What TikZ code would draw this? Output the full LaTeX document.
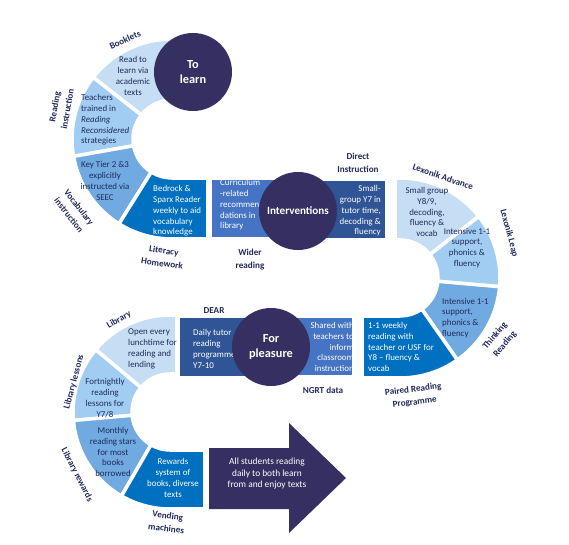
\documentclass[tikz,border=0pt]{standalone}
\usepackage{fontspec}
\setmainfont{Carlito}
\definecolor{navy}{RGB}{53,47,98}
\definecolor{pale}{RGB}{198,222,243}
\definecolor{sky}{RGB}{162,205,242}
\definecolor{mid}{RGB}{112,170,225}
\definecolor{strong}{RGB}{0,112,192}
\definecolor{steel}{RGB}{70,116,197}
\definecolor{deep}{RGB}{47,85,151}
\definecolor{ink}{RGB}{31,42,92}
\begin{document}
\begin{tikzpicture}[x=.03cm,y=.03cm,line join=round,
  sec/.style={draw=white,line width=3pt},
  txt/.style={font=\fontsize{7.6}{9.2}\selectfont,inner sep=0pt},
  dk/.style={txt,text=ink},
  wt/.style={txt,text=white},
  lab/.style={font=\bfseries\fontsize{7.8}{11}\selectfont,text=ink,align=center,inner sep=0pt},
  hub/.style={circle,fill=navy,text=white,font=\bfseries\fontsize{10.5}{13.5}\selectfont,align=center,minimum size=2.34cm,inner sep=0pt}]
  \useasboundingbox (0,0) rectangle (569,-545);
  \coordinate (C1) at (172,-139); \coordinate (C2) at (400,-278); \coordinate (C3) at (170,-412);
  \filldraw[sec,fill=pale] ([shift={(85:39)}]C1) -- ([shift={(85:100)}]C1) arc[start angle=85,end angle=142,radius=100] -- ([shift={(142:39)}]C1) arc[start angle=142,end angle=85,radius=39] -- cycle;
  \filldraw[sec,fill=sky] ([shift={(142:39)}]C1) -- ([shift={(142:100)}]C1) arc[start angle=142,end angle=190,radius=100] -- ([shift={(190:39)}]C1) arc[start angle=190,end angle=142,radius=39] -- cycle;
  \filldraw[sec,fill=mid] ([shift={(190:39)}]C1) -- ([shift={(190:100)}]C1) arc[start angle=190,end angle=238,radius=100] -- ([shift={(238:39)}]C1) arc[start angle=238,end angle=190,radius=39] -- cycle;
  \filldraw[sec,fill=strong] ([shift={(238:39)}]C1) -- ([shift={(238:100)}]C1) arc[start angle=238,end angle=270,radius=100] -- (208,-239) -- (208,-178) -- ([shift={(270:39)}]C1) arc[start angle=270,end angle=238,radius=39] -- cycle;
  \filldraw[sec,fill=steel] (210,-178) rectangle (298,-239);
  \filldraw[sec,fill=deep] (298,-179) rectangle (387,-240);
  \filldraw[sec,fill=pale] (395,-240) -- (395,-178) -- ([shift={(90:100)}]C2) arc[start angle=90,end angle=38,radius=100] -- ([shift={(38:38)}]C2) arc[start angle=38,end angle=90,radius=38] -- cycle;
  \filldraw[sec,fill=sky] ([shift={(38:38)}]C2) -- ([shift={(38:100)}]C2) arc[start angle=38,end angle=-5,radius=100] -- ([shift={(-5:38)}]C2) arc[start angle=-5,end angle=38,radius=38] -- cycle;
  \filldraw[sec,fill=mid] ([shift={(-5:38)}]C2) -- ([shift={(-5:100)}]C2) arc[start angle=-5,end angle=-55,radius=100] -- ([shift={(-55:38)}]C2) arc[start angle=-55,end angle=-5,radius=38] -- cycle;
  \filldraw[sec,fill=strong] ([shift={(-55:38)}]C2) -- ([shift={(-55:100)}]C2) arc[start angle=-55,end angle=-90,radius=100] -- (362,-378) -- (362,-316) -- ([shift={(-90:38)}]C2) arc[start angle=-90,end angle=-55,radius=38] -- cycle;
  \filldraw[sec,fill=steel] (271,-316) rectangle (354,-377);
  \filldraw[sec,fill=deep] (178,-316) rectangle (271,-378);
  \filldraw[sec,fill=pale] (177,-374) -- (177,-315) -- ([shift={(90:97)}]C3) arc[start angle=90,end angle=140,radius=97] -- ([shift={(140:38)}]C3) arc[start angle=140,end angle=90,radius=38] -- cycle;
  \filldraw[sec,fill=sky] ([shift={(140:38)}]C3) -- ([shift={(140:97)}]C3) arc[start angle=140,end angle=185,radius=97] -- ([shift={(185:38)}]C3) arc[start angle=185,end angle=140,radius=38] -- cycle;
  \filldraw[sec,fill=mid] ([shift={(185:38)}]C3) -- ([shift={(185:97)}]C3) arc[start angle=185,end angle=240,radius=97] -- ([shift={(240:38)}]C3) arc[start angle=240,end angle=185,radius=38] -- cycle;
  \filldraw[sec,fill=strong] ([shift={(240:38)}]C3) -- ([shift={(240:97)}]C3) arc[start angle=240,end angle=270,radius=97] -- (205,-509) -- (205,-450) -- ([shift={(270:38)}]C3) arc[start angle=270,end angle=240,radius=38] -- cycle;
  \fill[navy] (209,-448) -- (289,-448) -- (289,-423) -- (346,-478) -- (289,-533) -- (289,-509) -- (209,-509) -- cycle;
  \node[dk,align=center] (rtl) at (133,-76) {Read to\\learn via\\academic\\texts};
  \node[dk,align=left,anchor=west] (ttr) at (81,-120) {Teachers\\trained in\\\textit{Reading}\\\textit{Reconsidered}\\strategies};
  \node[dk,align=center] (ktr) at (105,-181) {Key Tier 2 \&3\\explicitly\\instructed via\\SEEC};
  \node[wt,align=left,anchor=west] (bsr) at (153,-211) {Bedrock \&\\Sparx Reader\\weekly to aid\\vocabulary\\knowledge};
  \node[wt,align=left,anchor=west] (crr) at (220,-205) {Curriculum\\-related\\recommen\\dations in\\library};
  \node[wt,align=right,anchor=east] (sgy7) at (381,-211) {Small-\\group Y7 in\\tutor time,\\decoding \&\\fluency};
  \node[dk,align=center] (sgy8) at (427,-212) {Small group\\Y8/9,\\decoding,\\fluency \&\\vocab};
  \node[dk,align=center] (int1) at (467,-248) {Intensive 1-1\\support,\\phonics \&\\fluency};
  \node[dk,align=left,anchor=west] (int2) at (442,-318) {Intensive 1-1\\support,\\phonics \&\\fluency};
  \node[wt,align=left,anchor=west] (wkly) at (368,-347) {1-1 weekly\\reading with\\teacher or USF for\\Y8 – fluency \&\\vocab};
  \node[wt,align=right,anchor=east] (shw) at (354,-347) {Shared with\\teachers to\\inform\\classroom\\instruction};
  \node[wt,align=left,anchor=west] (dtr) at (193,-349) {Daily tutor\\reading\\programme\\Y7-10};
  \node[dk,align=left,anchor=west] (opn) at (128,-349) {Open every\\lunchtime for\\reading and\\lending};
  \node[dk,align=center] (fnr) at (105,-398) {Fortnightly\\reading\\lessons for\\Y7/8};
  \node[dk,align=center] (mrs) at (113,-452) {Monthly\\reading stars\\for most\\books\\borrowed};
  \node[wt,align=center] (rws) at (173,-478) {Rewards\\system of\\books, diverse\\texts};
  \node[wt,align=center,font=\fontsize{8}{9.8}\selectfont] (goal) at (267,-474) {All students reading\\daily to both learn\\from and enjoy texts};
  \node[hub] (lrn) at (193,-72) {To\\learn};
  \node[hub,font=\bfseries\fontsize{9.5}{12}\selectfont] (intv) at (298,-211) {Interventions};
  \node[hub] (plsr) at (271,-347) {For\\pleasure};
  \node[lab,rotate=24] (bkl) at (125,-40) {Booklets};
  \node[lab,rotate=80] (rdi) at (61,-108) {Reading\\instruction};
  \node[lab,rotate=-52] (vci) at (74,-211) {Vocabulary\\instruction};
  \node[lab,rotate=-8] (lhw) at (163,-257) {Literacy\\Homework};
  \node[lab] (wdr) at (250,-260) {Wider\\reading};
  \node[lab] (dirin) at (358,-163) {Direct\\Instruction};
  \node[lab,rotate=-19] (lxa) at (443,-177) {Lexonik Advance};
  \node[lab,rotate=-75] (lxl) at (509,-233) {Lexonik Leap};
  \node[lab,rotate=50] (thr) at (500,-340) {Thinking\\Reading};
  \node[lab,rotate=7] (prp) at (414,-396) {Paired Reading\\Programme};
  \node[lab] (ngrt) at (323,-390) {NGRT data};
  \node[lab] (dear) at (214,-311) {DEAR};
  \node[lab,rotate=30] (lib) at (119,-320) {Library};
  \node[lab,rotate=75] (libl) at (74,-382) {Library lessons};
  \node[lab,rotate=-63] (libr) at (77,-475) {Library rewards};
  \node[lab,rotate=-7] (vend) at (167,-522) {Vending\\machines};
\end{tikzpicture}
\end{document}
